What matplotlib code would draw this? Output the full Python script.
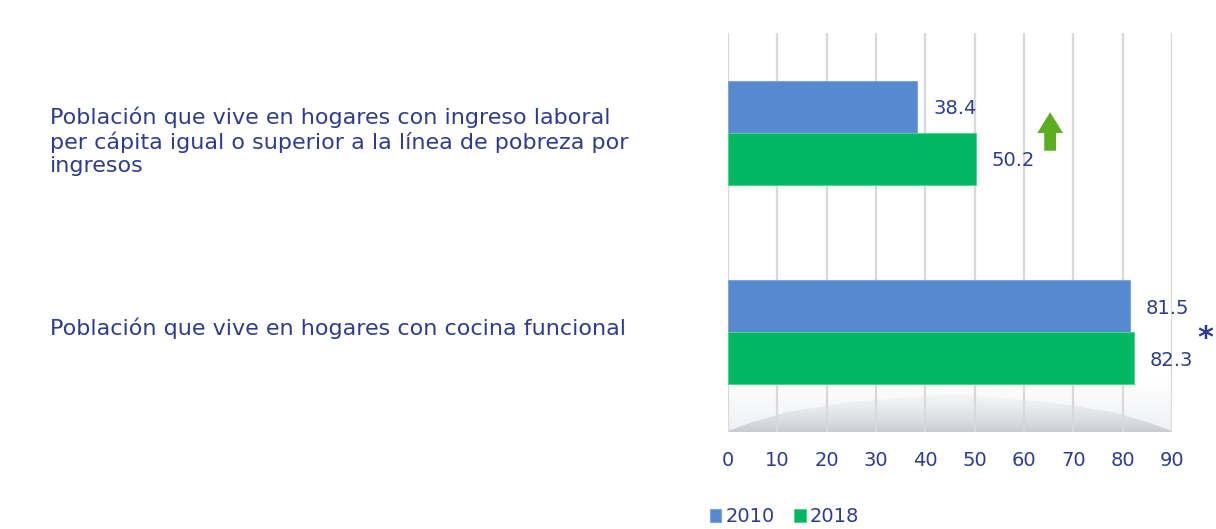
import numpy as np
import matplotlib

matplotlib.use("Agg")
import matplotlib.pyplot as plt
from matplotlib.colors import LinearSegmentedColormap
from matplotlib.patches import Polygon
from matplotlib.transforms import blended_transform_factory

# --------------------------------------------------------------------------- #
# Data
# --------------------------------------------------------------------------- #
categories = [
    "Población que vive en hogares con ingreso laboral\n"
    "per cápita igual o superior a la línea de pobreza por\n"
    "ingresos",
    "Población que vive en hogares con cocina funcional",
]
years = ["2010", "2018"]
values_2010 = [38.4, 81.5]
values_2018 = [50.2, 82.3]
x_ticks = [0, 10, 20, 30, 40, 50, 60, 70, 80, 90]

# --------------------------------------------------------------------------- #
# Style
# --------------------------------------------------------------------------- #
BLUE = "#5689CF"
GREEN = "#00B862"
TEXT = "#2E3C8F"
GRID = "#D9D9D9"

plt.rcParams["font.family"] = ["DejaVu Sans"]

fig = plt.figure(figsize=(12.16, 5.29), dpi=100)
ax = fig.add_axes([0.5987, 0.1834, 0.3651, 0.7542])

y = np.arange(len(categories))
h = 0.26
ax.barh(y - h / 2, values_2010, height=h, color=BLUE, edgecolor="#7FA6DC",
        linewidth=0.8, label=years[0], zorder=3)
ax.barh(y + h / 2, values_2018, height=h, color=GREEN, edgecolor="#4FD08F",
        linewidth=0.8, label=years[1], zorder=3)

ax.set_xlim(0, 90)
ax.set_ylim(1.5, -0.5)

# 3D-looking floor under the bars: faint full-width fade + darker dome
fade_cmap = LinearSegmentedColormap.from_list("fade", ["#FFFFFF", "#EEF0F3"])
fade = np.linspace(0, 1, 100).reshape(-1, 1)
ax.imshow(fade, cmap=fade_cmap, vmin=0, vmax=1, aspect="auto",
          extent=(0, 90, 1.5, 1.24), zorder=0.1, interpolation="bilinear")

floor_cmap = LinearSegmentedColormap.from_list("floor", ["#F4F5F7", "#C9CDD3"])
grad = np.linspace(0, 1, 100).reshape(-1, 1) ** 1.4
floor = ax.imshow(grad, cmap=floor_cmap, vmin=0, vmax=1, aspect="auto",
                  extent=(0, 90, 1.5, 1.30), zorder=0.2, interpolation="bilinear")
clip = Polygon([(0, 1.5), (0, 1.495), (5, 1.45), (12, 1.40), (25, 1.35),
                (45, 1.31), (65, 1.35), (78, 1.40), (85, 1.45), (90, 1.495),
                (90, 1.5)], closed=True, transform=ax.transData)
floor.set_clip_path(clip)

ax.set_xticks(x_ticks)
ax.set_yticks([])
ax.xaxis.grid(True, color=GRID, linewidth=1.6)
ax.set_axisbelow(True)
for s in ax.spines.values():
    s.set_visible(False)
ax.tick_params(axis="x", length=0, pad=14, labelsize=14, labelcolor=TEXT)

# value labels
for vals, dy in ((values_2010, -h / 2), (values_2018, h / 2)):
    for yi, v in zip(y, vals):
        ax.text(v + 3.2, yi + dy + 0.01, f"{v:.1f}", va="center", ha="left",
                fontsize=14, color=TEXT)

# green arrow marking a significant increase
ax.annotate("", xy=(65.3, -0.103), xytext=(65.3, 0.09),
            arrowprops=dict(arrowstyle="simple,head_length=1.5,head_width=1.85,tail_width=0.85",
                            color="#5CAE1F", lw=0, shrinkA=0, shrinkB=0), zorder=4)

# asterisk: no significant change
ax.text(96.8, 1.03, "*", ha="center", va="center", fontsize=22,
        fontweight="bold", color=TEXT, clip_on=False)

# category labels on the left
trans = blended_transform_factory(fig.transFigure, ax.transData)
label_y = [0.043, -0.018]
for yi, off, cat in zip(y, label_y, categories):
    ax.text(0.041, yi + off, cat, transform=trans, ha="left", va="center",
            fontsize=16, color=TEXT, linespacing=1.2)

fig.legend(loc="lower center", bbox_to_anchor=(0.645, -0.028), ncol=2,
           frameon=False, fontsize=14, labelcolor=TEXT, handlelength=0.6,
           handleheight=0.6, handletextpad=0.2, columnspacing=1.0)

fig.savefig("out.png", dpi=100)
